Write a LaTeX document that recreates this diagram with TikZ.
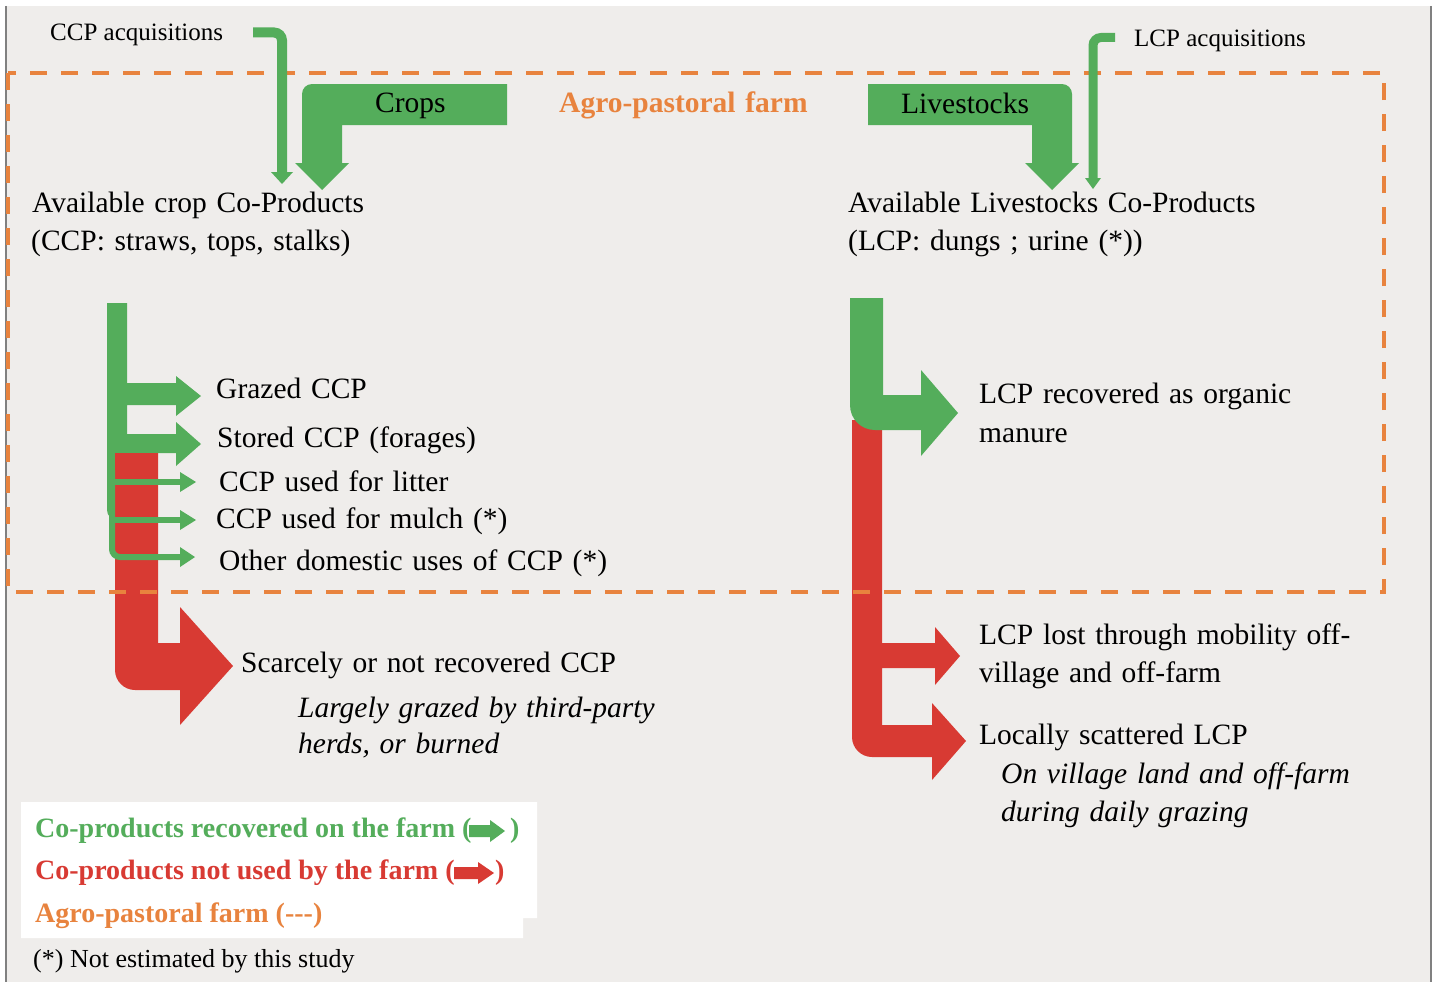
\documentclass[tikz,border=0pt]{standalone}
\usepackage{fontspec}
\setmainfont{Liberation Serif}
\definecolor{bggrey}{RGB}{239,237,235}
\definecolor{flowgreen}{RGB}{84,173,91}
\definecolor{flowred}{RGB}{216,58,51}
\definecolor{farmorange}{RGB}{232,131,62}
\newcommand{\widewords}{\spaceskip=0.33em plus 0.1em\relax}

\begin{document}
\begin{tikzpicture}[x=1pt,y=-1pt,
    lbl/.style={anchor=base west,inner sep=0pt,font=\fontsize{29.5}{34}\selectfont\widewords},
    notelbl/.style={lbl,font=\fontsize{29.5}{34}\selectfont\itshape\widewords},
    smalllbl/.style={anchor=base west,inner sep=0pt,font=\fontsize{25}{30}\selectfont},
    legtxt/.style={anchor=base west,inner sep=0pt,font=\fontsize{28}{33}\selectfont\bfseries},
    acqline/.style={draw=flowgreen,line width=10pt,rounded corners=8pt},
    useline/.style={draw=flowgreen,line width=6pt},
    farmline/.style={draw=farmorange,line width=4pt,dash pattern=on 17pt off 14pt}]
  \useasboundingbox (0,0) rectangle (1432,982);
  \fill[white] (0,0) rectangle (1432,982);
  \fill[bggrey] (6,6) rectangle (1431,982);
  \draw[gray,line width=1.2pt] (6,6) -- (6,982);
  \draw[gray,line width=1.2pt] (1431,6) -- (1431,982);

  % crops and livestocks inputs
  \fill[flowgreen] (507,84) -- (312,84) .. controls (306.5,84) and (302,88.5) .. (302,94) -- (302,163) -- (295,163) -- (322,190) -- (349,163) -- (342,163) -- (342,125) -- (507,125) -- cycle;
  \fill[flowgreen] (868,84) -- (1062,84) .. controls (1067.5,84) and (1072,88.5) .. (1072,94) -- (1072,163) -- (1079,163) -- (1052,190) -- (1025,163) -- (1032,163) -- (1032,125) -- (868,125) -- cycle;
  \node[lbl] (crops) at (375,112) {Crops};
  \node[lbl] (livestocks) at (901,113) {Livestocks};

  % CCP flows
  \fill[flowgreen] (107,303) -- (127,303) -- (127,383) -- (176,383) -- (176,376) -- (201,396) -- (176,416) -- (176,405) -- (127,405) -- (127,434) -- (176,434) -- (176,422) -- (201,444) -- (176,466) -- (176,453) -- (127,453) -- (127,520) -- (117,520) .. controls (111.5,520) and (107,515.5) .. (107,510) -- cycle;
  \fill[flowred] (115,453) -- (158,453) -- (158,643) -- (180,643) -- (180,607) -- (233,666) -- (180,725) -- (180,690) -- (135,690) .. controls (124,690) and (115,681) .. (115,670) -- cycle;
  \draw[useline,rounded corners=8pt] (112,470) |- (180,557);
  \draw[useline] (112,482) -- (180,482);
  \draw[useline] (112,520) -- (180,520);
  \fill[flowgreen] (180,472) -- (196,482) -- (180,492) -- cycle;
  \fill[flowgreen] (180,510) -- (196,520) -- (180,530) -- cycle;
  \fill[flowgreen] (180,547) -- (195,557) -- (180,567) -- cycle;

  % LCP flows
  \fill[flowred] (852,420) -- (882,420) -- (882,643) -- (935,643) -- (935,627) -- (960,656) -- (935,685) -- (935,668) -- (882,668) -- (882,725) -- (932,725) -- (932,703) -- (966,741) -- (932,780) -- (932,757) -- (872,757) .. controls (861,757) and (852,748) .. (852,737) -- cycle;
  \fill[flowgreen] (850,298) -- (883,298) -- (883,395) -- (921,395) -- (921,370) -- (958,413) -- (921,456) -- (921,430) -- (875,430) .. controls (861,430) and (850,419) .. (850,405) -- cycle;

  % farm boundary
  \draw[farmline] (8,73) rectangle (1384,592);
  \node[lbl,font=\fontsize{29.5}{34}\selectfont\bfseries\widewords,text=farmorange] (farm) at (559,112) {Agro-pastoral farm};

  % acquisitions
  \draw[acqline] (253,32.5) -- (282,32.5) -- (282,172);
  \fill[flowgreen] (271,172) -- (293,172) -- (282,184) -- cycle;
  \draw[acqline,line width=9pt] (1115,37.5) -- (1093,37.5) -- (1093,178);
  \fill[flowgreen] (1085,178) -- (1101,178) -- (1093,189) -- cycle;
  \node[smalllbl] (ccpacq) at (50,41) {CCP acquisitions};
  \node[smalllbl] (lcpacq) at (1134,47) {LCP acquisitions};

  \node[lbl] (ccp) at (32,212) {Available crop Co-Products};
  \node[lbl] (ccp2) at (31,250) {(CCP: straws, tops, stalks)};
  \node[lbl] (lcp) at (848,212) {Available Livestocks Co-Products};
  \node[lbl] (lcp2) at (848,250) {(LCP: dungs ; urine (*))};

  \node[lbl] (grazed) at (216,398) {Grazed CCP};
  \node[lbl] (stored) at (217,447) {Stored CCP (forages)};
  \node[lbl] (litter) at (219,491) {CCP used for litter};
  \node[lbl] (mulch) at (216,528) {CCP used for mulch (*)};
  \node[lbl] (domestic) at (219,570) {Other domestic uses of CCP (*)};
  \node[lbl] (scarce) at (241,672) {Scarcely or not recovered CCP};
  \node[notelbl] (scarce2) at (298,717) {Largely grazed by third-party};
  \node[notelbl] (scarce3) at (298,753) {herds, or burned};

  \node[lbl] (manure) at (979,403) {LCP recovered as organic};
  \node[lbl] (manure2) at (979,442) {manure};
  \node[lbl] (lost) at (979,644) {LCP lost through mobility off-};
  \node[lbl] (lost2) at (979,682) {village and off-farm};
  \node[lbl] (scattered) at (979,744) {Locally scattered LCP};
  \node[notelbl] (scattered2) at (1001,783) {On village land and off-farm};
  \node[notelbl] (scattered3) at (1001,821) {during daily grazing};

  % legend
  \fill[white] (21,802) -- (537,802) -- (537,918) -- (523,918) -- (523,938) -- (21,938) -- cycle;
  \node[legtxt,text=flowgreen] (legrec) at (35,837) {Co-products recovered on the farm (};
  \fill[flowgreen] (469,825) -- (490,825) -- (490,820) -- (505,831) -- (490,842) -- (490,837) -- (469,837) -- cycle;
  \node[legtxt,text=flowgreen] (legrecend) at (510,837) {)};
  \node[legtxt,text=flowred] (legnot) at (35,879) {Co-products not used by the farm (};
  \fill[flowred] (454,867) -- (478,867) -- (478,862) -- (494,873) -- (478,884) -- (478,879) -- (454,879) -- cycle;
  \node[legtxt,text=flowred] (legnotend) at (495,879) {)};
  \node[legtxt,text=farmorange] (legfarm) at (35,922) {Agro-pastoral farm (\mbox{-}\mbox{-}\mbox{-})};
  \node[smalllbl,font=\fontsize{26}{30}\selectfont] (legnote) at (33,967) {(*) Not estimated by this study};
\end{tikzpicture}
\end{document}
